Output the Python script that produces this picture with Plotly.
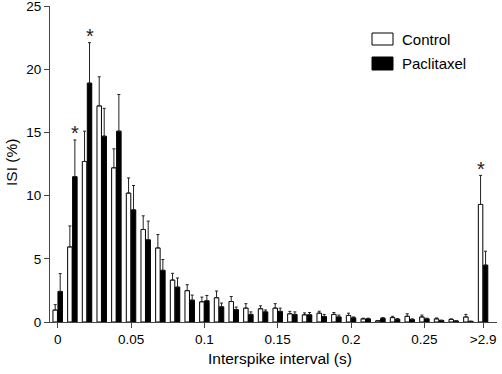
import plotly.graph_objects as go

bin_labels = ["0", "0.01", "0.02", "0.03", "0.04", "0.05", "0.06", "0.07", "0.08", "0.09",
              "0.10", "0.11", "0.12", "0.13", "0.14", "0.15", "0.16", "0.17", "0.18", "0.19",
              "0.20", "0.21", "0.22", "0.23", "0.24", "0.25", "0.26", "0.27", "0.28", ">2.9"]

control_mean = [0.95, 5.94, 12.7, 17.1, 12.2, 10.2, 7.32, 5.86, 3.32, 2.48,
                1.6, 1.92, 1.62, 1.1, 1.05, 1.1, 0.65, 0.57, 0.7, 0.6,
                0.52, 0.25, 0.1, 0.35, 0.45, 0.4, 0.25, 0.2, 0.4, 9.3]
control_sem = [0.42, 1.66, 2.4, 2.3, 1.5, 1.2, 1.08, 1.06, 0.53, 0.47,
               0.37, 0.53, 0.4, 0.35, 0.23, 0.35, 0.19, 0.15, 0.15, 0.15,
               0.18, 0.05, 0.02, 0.1, 0.2, 0.15, 0.07, 0.05, 0.2, 2.3]

pacli_mean = [2.42, 11.5, 18.9, 14.7, 15.1, 8.87, 6.5, 4.09, 2.76, 1.73,
              1.68, 1.2, 0.98, 0.6, 0.8, 0.84, 0.6, 0.57, 0.44, 0.4,
              0.33, 0.25, 0.3, 0.22, 0.2, 0.25, 0.12, 0.08, 0.05, 4.5]
pacli_sem = [1.41, 2.9, 3.2, 2.2, 2.9, 1.93, 1.48, 0.85, 0.72, 0.4,
             0.42, 0.3, 0.2, 0.2, 0.15, 0.26, 0.2, 0.18, 0.16, 0.15,
             0.07, 0.05, 0.05, 0.05, 0.05, 0.05, 0.03, 0.02, 0.01, 1.1]

tick_labels = ["0", "0.05", "0.1", "0.15", "0.2", "0.25", ">2.9"]
tick_bins = ["0", "0.05", "0.10", "0.15", "0.20", "0.25", ">2.9"]
y_ticks = [0, 5, 10, 15, 20, 25]

# significant bins: (bin label, series)
significant = [("0.01", "Paclitaxel"), ("0.02", "Paclitaxel"), (">2.9", "Control")]

x = list(range(len(bin_labels)))
tickvals = [bin_labels.index(b) for b in tick_bins]

FONT = "Liberation Sans, Arial, sans-serif"
W, H = 502, 374
ML, MR, MT, MB = 50, 5, 6, 52

fig = go.Figure()
fig.add_trace(go.Bar(
    x=x, y=control_mean, name="Control",
    marker=dict(color="white", line=dict(color="black", width=1)),
    error_y=dict(type="data", array=control_sem, arrayminus=[0] * len(x), symmetric=False,
                 color="#222", thickness=1, width=1.5),
))
fig.add_trace(go.Bar(
    x=x, y=pacli_mean, name="Paclitaxel",
    marker=dict(color="black", line=dict(color="black", width=1)),
    error_y=dict(type="data", array=pacli_sem, arrayminus=[0] * len(x), symmetric=False,
                 color="#222", thickness=1, width=1.5),
))

annotations = []
for b, s in significant:
    i = bin_labels.index(b)
    if s == "Control":
        top = control_mean[i] + control_sem[i]
        shift = -2.5
    else:
        top = pacli_mean[i] + pacli_sem[i]
        shift = 2.5
    annotations.append(dict(x=i, y=top, xref="x", yref="y", text="*", showarrow=False,
                            xshift=shift, yanchor="bottom", yshift=-6.5,
                            font=dict(size=20, family=FONT, color="#222")))

pw, ph = W - ML - MR, H - MT - MB


def px(xp):
    return (xp - ML) / pw


def py(yp):
    return 1 - (yp - MT) / ph


shapes = [
    dict(type="rect", xref="paper", yref="paper", x0=px(372), x1=px(393), y0=py(45), y1=py(33),
         fillcolor="white", line=dict(color="black", width=1)),
    dict(type="rect", xref="paper", yref="paper", x0=px(372), x1=px(393), y0=py(70), y1=py(57),
         fillcolor="black", line=dict(color="black", width=1)),
]
annotations += [
    dict(x=px(400), y=py(39.5), xref="paper", yref="paper", text="Control", showarrow=False,
         xanchor="left", yanchor="middle", font=dict(size=15, family=FONT, color="black")),
    dict(x=px(400), y=py(64), xref="paper", yref="paper", text="Paclitaxel", showarrow=False,
         xanchor="left", yanchor="middle", font=dict(size=15, family=FONT, color="black")),
    # axis titles
    dict(x=px(280), y=py(358), xref="paper", yref="paper", text="Interspike interval (s)",
         showarrow=False, xanchor="center", yanchor="middle",
         font=dict(size=15.5, family=FONT, color="black")),
    dict(x=px(11), y=py(163), xref="paper", yref="paper", text="ISI (%)", textangle=-90,
         showarrow=False, xanchor="center", yanchor="middle",
         font=dict(size=15.5, family=FONT, color="black")),
]

fig.update_layout(
    width=W, height=H,
    margin=dict(l=ML, r=MR, t=MT, b=MB, autoexpand=False),
    paper_bgcolor="white", plot_bgcolor="white",
    barmode="group", bargap=0.32, bargroupgap=0.1,
    showlegend=False,
    font=dict(family=FONT, color="black", size=13.5),
    shapes=shapes, annotations=annotations,
)
fig.update_xaxes(
    range=[-0.525, 29.95], tickmode="array", tickvals=tickvals, ticktext=tick_labels,
    showline=True, linecolor="#444", linewidth=1, ticks="outside", ticklen=5, tickcolor="#444",
    showgrid=False, zeroline=False, automargin=False, ticklabeloverflow="allow",
    tickfont=dict(size=13.5, family=FONT, color="black"),
)
fig.update_yaxes(
    range=[0, 25.001], tickmode="array", tickvals=y_ticks,
    showline=True, linecolor="#444", linewidth=1, ticks="outside", ticklen=5, tickcolor="#444",
    showgrid=False, zeroline=False, automargin=False, ticklabeloverflow="allow",
    tickfont=dict(size=13.5, family=FONT, color="black"),
)

fig.write_html(
    "out.html",
    config={"displayModeBar": False},
    post_script="document.body.style.margin='0';document.body.style.overflow='hidden';",
)
